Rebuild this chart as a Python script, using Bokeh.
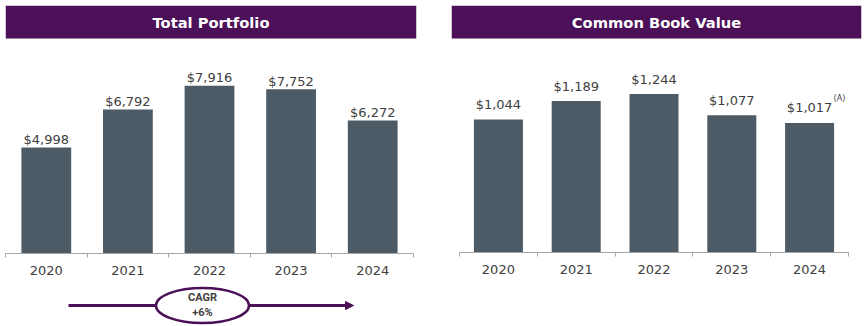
from bokeh.plotting import figure
from bokeh.layouts import row, column
from bokeh.models import (Range1d, FixedTicker, BoxAnnotation, Label, Arrow,
                          NormalHead, ColumnDataSource)
from bokeh.core.properties import value
from bokeh.embed import file_html
from bokeh.resources import INLINE

# ---------------- data ----------------
years = ["2020", "2021", "2022", "2023", "2024"]
portfolio = [4998, 6792, 7916, 7752, 6272]
portfolio_labels = ["$4,998", "$6,792", "$7,916", "$7,752", "$6,272"]
book_value = [1044, 1189, 1244, 1077, 1017]
book_labels = ["$1,044", "$1,189", "$1,244", "$1,077", "$1,017"]
book_notes = ["", "", "", "", "(A)"]
cagr_lines = ["CAGR", "+6%"]

PURPLE = "#4B1057"
BAR = "#4D5B66"
TEXT = "#404040"
AXIS = "#A6A6A6"
FONT = "DejaVu Sans"


def panel(title, vals, labels, notes, *, b_left, b_right, f_w, f_h, b_bottom,
          x0, x1, ymax, bar_w, label_gap, hdr_bottom, hdr_mid):
    n = len(vals)
    xs = [i + 0.5 for i in range(n)]
    src = ColumnDataSource(dict(x=xs, v=vals, lab=labels, note=notes, yr=years))
    p = figure(frame_width=f_w, frame_height=f_h, min_border_left=b_left,
               min_border_right=b_right, min_border_top=5,
               min_border_bottom=b_bottom, x_range=Range1d(x0, x1),
               y_range=Range1d(0, ymax), toolbar_location=None,
               output_backend="svg", y_axis_location=None)
    p.outline_line_color = None
    p.grid.visible = False
    p.background_fill_color = "white"
    p.border_fill_color = "white"

    # header band
    p.add_layout(BoxAnnotation(bottom=hdr_bottom, bottom_units="screen",
                               fill_color=PURPLE, fill_alpha=1.0,
                               line_alpha=0.0))
    p.add_layout(Label(x=f_w / 2, y=hdr_mid, x_units="screen",
                       y_units="screen", text=title, text_align="center",
                       text_baseline="middle", text_color="white",
                       text_font=FONT, text_font_style="bold",
                       text_font_size="14.7px"))

    p.vbar(x="x", top="v", width=bar_w, source=src, fill_color=BAR,
           line_color=None)
    p.text(x="x", y="v", text="lab", source=src, text_align="center",
           text_baseline="alphabetic", y_offset=-label_gap,
           text_font=value(FONT), text_font_size="13px", text_color=TEXT)
    p.text(x="x", y="v", text="note", source=src, text_align="left",
           text_baseline="middle", x_offset=24, y_offset=-24,
           text_font=value(FONT), text_font_size="8px", text_color=TEXT)

    ax = p.xaxis[0]
    ax.ticker = FixedTicker(ticks=xs, minor_ticks=list(range(n + 1)))
    ax.major_label_overrides = {x: y for x, y in zip(xs, years)}
    ax.bounds = (0, n)
    ax.major_tick_out = 0
    ax.major_tick_in = 0
    ax.minor_tick_out = 4
    ax.minor_tick_in = 0
    ax.axis_line_color = AXIS
    ax.minor_tick_line_color = AXIS
    ax.major_label_text_font = FONT
    ax.major_label_text_font_size = "13px"
    ax.major_label_text_color = TEXT
    ax.major_label_standoff = 8
    return p


# left: axis 5..413 (81.6 px / category), header 5..416, frame 5..253
p1 = panel("Total Portfolio", portfolio, portfolio_labels, [""] * 5,
           b_left=5, b_right=35, f_w=411, f_h=248, b_bottom=32,
           x0=0, x1=411 / 81.6, ymax=248 / 0.0212, bar_w=0.61,
           label_gap=8, hdr_bottom=215, hdr_mid=231)

# right: axis 459..848 (77.8 px / category), header 451..861, frame 5..252
p2 = panel("Common Book Value", book_value, book_labels, book_notes,
           b_left=0, b_right=7, f_w=410, f_h=247, b_bottom=74,
           x0=-8 / 77.8, x1=5 + 13 / 77.8, ymax=247 / 0.1274, bar_w=0.63,
           label_gap=15, hdr_bottom=214, hdr_mid=230)

# CAGR strip under the left chart
pc = figure(frame_width=411, frame_height=41, min_border_left=5,
            min_border_right=35, min_border_top=0, min_border_bottom=0,
            x_range=p1.x_range, y_range=Range1d(0, 41), toolbar_location=None,
            output_backend="svg", x_axis_location=None, y_axis_location=None)
pc.outline_line_color = None
pc.grid.visible = False
CAGR_X = (202 - 5) / 81.6
ARROW_X0 = (68 - 5) / 81.6
ARROW_X1 = (353 - 5) / 81.6
MID_Y = 21
pc.add_layout(Arrow(x_start=ARROW_X0, y_start=MID_Y, x_end=ARROW_X1,
                    y_end=MID_Y, line_color=PURPLE, line_width=3,
                    end=NormalHead(size=8, fill_color=PURPLE,
                                   line_color=PURPLE), level="underlay"))
pc.ellipse(x=[CAGR_X], y=[MID_Y], width=93, height=35, width_units="screen",
           height_units="screen", fill_color="white", line_color=PURPLE,
           line_width=2.5)
pc.text(x=[CAGR_X, CAGR_X], y=[MID_Y, MID_Y], text=cagr_lines,
        y_offset=[-8, 7], text_align="center", text_baseline="middle",
        text_font=value("Roboto"), text_font_style="bold",
        text_font_size="11px", text_color=TEXT)

layout = row(column(p1, pc, spacing=0), p2, spacing=0)
open("out.html", "w").write(file_html(layout, INLINE))
